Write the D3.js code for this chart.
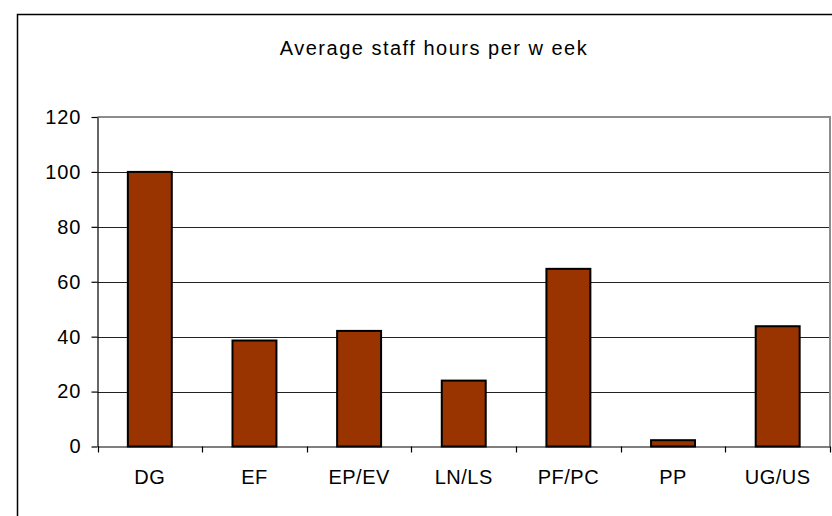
<!DOCTYPE html>
<html>
<head>
<meta charset="utf-8">
<script src="https://cdn.jsdelivr.net/npm/d3@7"></script>
<style>
  body { margin: 0; background: #fff; }
  text { font-family: "Liberation Sans", Arial, sans-serif; fill: #000; }
</style>
</head>
<body>
<div id="chart"></div>
<script>
// data
const categories = ["DG", "EF", "EP/EV", "LN/LS", "PF/PC", "PP", "UG/US"];
const hours = [100, 38.6, 42.1, 24.0, 64.7, 2.3, 43.8];
const yTicks = [0, 20, 40, 60, 80, 100, 120];
const title = "Average staff hours per w eek";

const W = 832, H = 516;
const plot = {left: 97.5, right: 830, top: 117, bottom: 446.5};

let svg = d3.select("#chart")
  .append("svg")
    .attr("width", W)
    .attr("height", H);

// outer chart border (runs off the right and bottom edges)
svg.append("rect")
  .attr("x", 17.5).attr("y", 14.5)
  .attr("width", 840).attr("height", 540)
  .attr("fill", "none")
  .attr("stroke", "#000")
  .attr("stroke-width", 1.5);

let x = d3.scaleBand()
  .domain(categories)
  .range([plot.left, plot.right])
  .padding(0);

let y = d3.scaleLinear()
  .domain([0, 120])
  .range([plot.bottom, plot.top]);

// gridlines
svg.append("g")
  .selectAll("line")
  .data(yTicks.filter(d => d > 0 && d < 120))
  .enter()
  .append("line")
    .attr("x1", plot.left).attr("x2", plot.right)
    .attr("y1", d => Math.round(y(d)) + 0.5)
    .attr("y2", d => Math.round(y(d)) + 0.5)
    .attr("stroke", "#222")
    .attr("stroke-width", 1);

// plot area top / right border (grey)
svg.append("path")
  .attr("d", `M${plot.left},${y(120)}H${plot.right}V${plot.bottom}`)
  .attr("fill", "none")
  .attr("stroke", "#8c8c8c")
  .attr("stroke-width", 2);

// bars
const barW = x.bandwidth() * 0.42;
svg.selectAll("rect.bar")
  .data(categories)
  .enter()
  .append("rect")
    .attr("class", "bar")
    .attr("x", d => x(d) + (x.bandwidth() - barW) / 2)
    .attr("y", (d, i) => y(hours[i]))
    .attr("width", barW)
    .attr("height", (d, i) => y(0) - y(hours[i]))
    .attr("fill", "#993300")
    .attr("stroke", "#000")
    .attr("stroke-width", 2);

// y axis
let yAxis = d3.axisLeft(y).tickValues(yTicks).tickSize(6).tickSizeOuter(0).tickPadding(10);
svg.append("g")
  .attr("class", "y-axis")
  .attr("transform", "translate(" + plot.left + ",0)")
  .call(yAxis)
  .call(g => g.selectAll("line, path").attr("stroke", "#000").attr("stroke-width", 1.2))
  .call(g => g.selectAll("text")
    .style("font-size", "20px")
    .style("letter-spacing", "1px"));

// x axis: labels at band centres, ticks at band edges
let xAxis = d3.axisBottom(x).tickSize(0).tickPadding(23);
svg.append("g")
  .attr("class", "x-axis")
  .attr("transform", "translate(0," + plot.bottom + ")")
  .call(xAxis)
  .call(g => g.select(".domain").attr("stroke", "#000").attr("stroke-width", 1.2))
  .call(g => g.selectAll("text")
    .style("font-size", "20px")
    .style("letter-spacing", "0.5px"));

let edges = categories.map(d => x(d)).concat([plot.right]);
svg.append("g")
  .selectAll("line")
  .data(edges)
  .enter()
  .append("line")
    .attr("x1", d => Math.round(d) + 0.5).attr("x2", d => Math.round(d) + 0.5)
    .attr("y1", plot.bottom).attr("y2", plot.bottom + 6)
    .attr("stroke", "#000")
    .attr("stroke-width", 1.2);

// title
svg.append("text")
  .attr("x", 434)
  .attr("y", 55)
  .attr("text-anchor", "middle")
  .style("font-size", "20px")
  .style("letter-spacing", "1.5px")
  .text(title);
</script>
</body>
</html>
